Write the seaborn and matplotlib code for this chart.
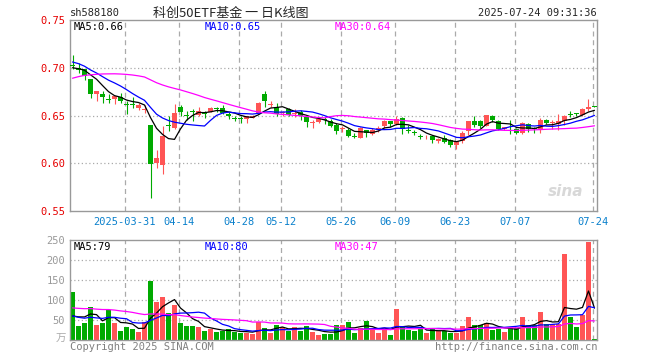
import numpy as np
import pandas as pd
import matplotlib
matplotlib.use('Agg')
import matplotlib.pyplot as plt
import seaborn as sns

# daily candles, 2025-03-18 .. 2025-07-24 (88 trading days)
opens = [0.703, 0.700, 0.699, 0.688, 0.673, 0.673, 0.667, 0.667, 0.669, 0.662,
         0.662, 0.658, 0.656, 0.640, 0.600, 0.598, 0.640, 0.637, 0.659, 0.651,
         0.655, 0.651, 0.654, 0.654, 0.658, 0.658, 0.652, 0.647, 0.647, 0.646,
         0.647, 0.653, 0.673, 0.661, 0.659, 0.653, 0.657, 0.652, 0.654, 0.648,
         0.642, 0.643, 0.646, 0.644, 0.640, 0.636, 0.635, 0.629, 0.626, 0.635,
         0.631, 0.635, 0.639, 0.644, 0.641, 0.647, 0.635, 0.633, 0.629, 0.627,
         0.629, 0.623, 0.626, 0.624, 0.619, 0.623, 0.634, 0.644, 0.644, 0.639,
         0.649, 0.644, 0.636, 0.637, 0.636, 0.632, 0.641, 0.636, 0.636, 0.645,
         0.6425, 0.641, 0.644, 0.651, 0.652, 0.651, 0.657, 0.6595]
highs = [0.713, 0.705, 0.699, 0.688, 0.676, 0.676, 0.672, 0.670, 0.674, 0.665,
         0.669, 0.663, 0.661, 0.640, 0.614, 0.639, 0.649, 0.662, 0.661, 0.655,
         0.657, 0.659, 0.655, 0.659, 0.659, 0.661, 0.654, 0.650, 0.649, 0.650,
         0.651, 0.664, 0.676, 0.665, 0.663, 0.655, 0.658, 0.657, 0.656, 0.651,
         0.645, 0.648, 0.648, 0.646, 0.642, 0.639, 0.637, 0.632, 0.638, 0.635,
         0.637, 0.639, 0.645, 0.644, 0.649, 0.648, 0.640, 0.635, 0.631, 0.630,
         0.630, 0.626, 0.630, 0.625, 0.623, 0.634, 0.644, 0.650, 0.645, 0.650,
         0.651, 0.645, 0.638, 0.645, 0.637, 0.643, 0.642, 0.638, 0.647, 0.646,
         0.645, 0.652, 0.651, 0.655, 0.653, 0.658, 0.667, 0.660]
lows = [0.699, 0.694, 0.687, 0.668, 0.665, 0.663, 0.663, 0.662, 0.663, 0.652,
        0.658, 0.656, 0.653, 0.564, 0.595, 0.589, 0.634, 0.636, 0.650, 0.645,
        0.644, 0.649, 0.647, 0.654, 0.654, 0.652, 0.646, 0.644, 0.642, 0.642,
        0.647, 0.653, 0.659, 0.659, 0.649, 0.650, 0.650, 0.648, 0.645, 0.638,
        0.637, 0.642, 0.641, 0.638, 0.631, 0.633, 0.627, 0.626, 0.626, 0.627,
        0.630, 0.633, 0.637, 0.638, 0.640, 0.631, 0.632, 0.630, 0.625, 0.625,
        0.621, 0.621, 0.621, 0.617, 0.615, 0.621, 0.630, 0.638, 0.637, 0.639,
        0.643, 0.635, 0.635, 0.631, 0.631, 0.631, 0.633, 0.632, 0.632, 0.641,
        0.636, 0.635, 0.640, 0.648, 0.650, 0.650, 0.655, 0.6585]
closes = [0.702, 0.698, 0.691, 0.673, 0.676, 0.669, 0.666, 0.670, 0.665, 0.661,
          0.661, 0.661, 0.657, 0.599, 0.605, 0.629, 0.639, 0.653, 0.654, 0.650,
          0.654, 0.655, 0.652, 0.658, 0.657, 0.653, 0.649, 0.646, 0.646, 0.649,
          0.650, 0.663, 0.665, 0.662, 0.652, 0.654, 0.651, 0.653, 0.650, 0.643,
          0.643, 0.646, 0.645, 0.639, 0.634, 0.637, 0.629, 0.628, 0.637, 0.632,
          0.635, 0.637, 0.644, 0.641, 0.646, 0.636, 0.634, 0.632, 0.628, 0.628,
          0.624, 0.625, 0.622, 0.619, 0.623, 0.632, 0.644, 0.640, 0.639, 0.650,
          0.645, 0.636, 0.638, 0.6365, 0.632, 0.642, 0.636, 0.6355, 0.645, 0.642,
          0.643, 0.644, 0.650, 0.6505, 0.6515, 0.657, 0.659, 0.659]
volumes = [121, 36, 43, 83, 38, 43, 76, 43, 23, 33,
           28, 21, 46, 149, 96, 108, 68, 88, 43, 36,
           36, 33, 23, 28, 21, 23, 28, 21, 18, 18,
           17, 46, 31, 18, 38, 33, 23, 33, 23, 36,
           21, 13, 16, 16, 38, 38, 46, 18, 31, 48,
           28, 18, 28, 13, 78, 33, 26, 23, 28, 18,
           28, 23, 23, 18, 18, 36, 58, 38, 38, 43,
           26, 28, 21, 31, 31, 58, 38, 38, 71, 41,
           41, 41, 216, 58, 33, 63, 246, 3]

# 29 earlier sessions (estimated) so the moving averages start where the chart shows them
prior_closes = [0.648, 0.652, 0.655, 0.660, 0.658, 0.663, 0.668, 0.672, 0.673,
                0.680, 0.688, 0.692, 0.689, 0.695, 0.700, 0.698, 0.703, 0.701, 0.706, 0.710,
                0.715, 0.718, 0.712, 0.708, 0.707,
                0.703, 0.699, 0.697, 0.699]
prior_volumes = [70, 68, 75, 80, 72, 78, 82, 85, 78,
                 95, 110, 120, 105, 98, 115, 102, 96, 108, 92, 91,
                 72, 65, 58, 55, 55,
                 48, 44, 46, 46]

date_labels = ['2025-03-31', '04-14', '04-28', '05-12', '05-26', '06-09', '06-23', '07-07', '07-24']
date_index = [9, 18, 28, 35, 45, 54, 64, 74, 87]

price_ma_labels = ['MA5:0.66', 'MA10:0.65', 'MA30:0.64']
vol_ma_labels = ['MA5:79', 'MA10:80', 'MA30:47']

RED = '#ff5555'
GREEN = '#00aa00'
MA_COLORS = ['#000000', '#0000ff', '#ff00ff']
FRAME = '#999999'
GRID = '#aaaaaa'

sns.set_style('white')
plt.rcParams['font.family'] = ['DejaVu Sans Mono', 'Noto Sans CJK SC']

n = len(closes)
idx = np.arange(n)
o = np.array(opens); h = np.array(highs); l = np.array(lows); c = np.array(closes)
up = c >= o
colors = np.where(up, RED, GREEN)

all_close = pd.Series(prior_closes + closes)
all_vol = pd.Series(prior_volumes + volumes, dtype=float)
k = len(prior_closes)
price_mas = [all_close.rolling(w).mean().iloc[k:].to_numpy() for w in (5, 10, 30)]
vol_mas = [all_vol.rolling(w).mean().iloc[k:].to_numpy() for w in (5, 10, 30)]

W, H = 660, 360
fig = plt.figure(figsize=(W / 100, H / 100), dpi=100)
ax1 = fig.add_axes([70 / W, 1 - 211 / H, 527 / W, 191 / H])
ax2 = fig.add_axes([70 / W, 1 - 340.3 / H, 527 / W, 100 / H])

xlim = (-0.42, 87.42)
grid_x = np.array(date_index) - 0.3

# ---- price panel
for y in (0.60, 0.65, 0.70):
    ax1.axhline(y, color=GRID, lw=0.9, ls=(0, (1, 2)), zorder=0)
for gx in grid_x:
    ax1.axvline(gx, color=GRID, lw=0.9, ls=(0, (4, 3)), zorder=0)

ax1.vlines(idx, l, h, colors=colors, lw=0.8, zorder=2)
body = np.maximum(np.abs(c - o), 0.0009)
ax1.bar(idx, body, bottom=np.minimum(o, c), width=0.72, color=colors, lw=0, zorder=3)

for ma, col in zip(price_mas, MA_COLORS):
    sns.lineplot(x=idx, y=ma, ax=ax1, color=col, lw=0.9, zorder=4)

ax1.set_xlim(*xlim)
ax1.set_ylim(0.55, 0.75)
ax1.set_yticks([0.55, 0.60, 0.65, 0.70, 0.75])
ax1.set_yticklabels(['%.2f' % v for v in [0.55, 0.60, 0.65, 0.70, 0.75]])
ax1.tick_params(axis='y', length=0, pad=3.5, labelsize=7.5, labelcolor='#e60000')
ax1.set_xticks(grid_x)
ax1.set_xticklabels(date_labels)
ax1.tick_params(axis='x', length=0, pad=4, labelsize=7.5, labelcolor='#0a80cc')

# ---- volume panel
for y in (50, 100, 150, 200):
    ax2.axhline(y, color=GRID, lw=0.9, ls=(0, (1, 2)), zorder=0)
for gx in grid_x:
    ax2.axvline(gx, color=GRID, lw=0.9, ls=(0, (4, 3)), zorder=0)

ax2.bar(idx, volumes, width=0.82, color=colors, lw=0, zorder=2)
for ma, col in zip(vol_mas, MA_COLORS):
    sns.lineplot(x=idx, y=ma, ax=ax2, color=col, lw=0.9, zorder=4)

ax2.set_xlim(*xlim)
ax2.set_ylim(0, 250)
ax2.set_yticks([50, 100, 150, 200, 250])
ax2.tick_params(axis='y', length=0, pad=3.5, labelsize=7.5, labelcolor='#999999')
ax2.set_xticks([])

for ax in (ax1, ax2):
    ax.set_xlabel('')
    ax.set_ylabel('')
    for s in ax.spines.values():
        s.set_color(FRAME)
        s.set_linewidth(1.0)

# ---- texts
def fx(px):
    return px / W

def fy(py):
    return 1 - py / H

fig.text(fx(70), fy(13), 'sh588180', fontsize=7.5, va='center', ha='left')
fig.text(fx(231), fy(13), '科创50ETF基金 一 日K线图', fontsize=9.4, va='center', ha='center',
         family=['Noto Sans CJK SC', 'DejaVu Sans'])
fig.text(fx(597), fy(13), '2025-07-24 09:31:36', fontsize=7.5, va='center', ha='right')

for lab, col, px in zip(price_ma_labels, MA_COLORS, (74, 205, 335)):
    fig.text(fx(px), fy(27), lab, fontsize=7.5, color=col, va='center', ha='left')
for lab, col, px in zip(vol_ma_labels, MA_COLORS, (74, 205, 335)):
    fig.text(fx(px), fy(246.5), lab, fontsize=7.5, color=col, va='center', ha='left')

fig.text(fx(566), fy(191), 'sina', fontsize=11, color='#d8d8d8', style='italic',
         weight='bold', va='center', ha='center', family='DejaVu Sans')
fig.text(fx(66), fy(339), '万', fontsize=7.5, color='#aaaaaa', va='center', ha='right',
         family=['Noto Sans CJK SC', 'DejaVu Sans'])
fig.text(fx(70), fy(347), 'Copyright 2025 SINA.COM', fontsize=7.5, color='#808080',
         va='center', ha='left')
fig.text(fx(597), fy(347), 'http://finance.sina.com.cn', fontsize=7.5, color='#808080',
         va='center', ha='right')

fig.savefig('out.png', dpi=100, facecolor='white')
